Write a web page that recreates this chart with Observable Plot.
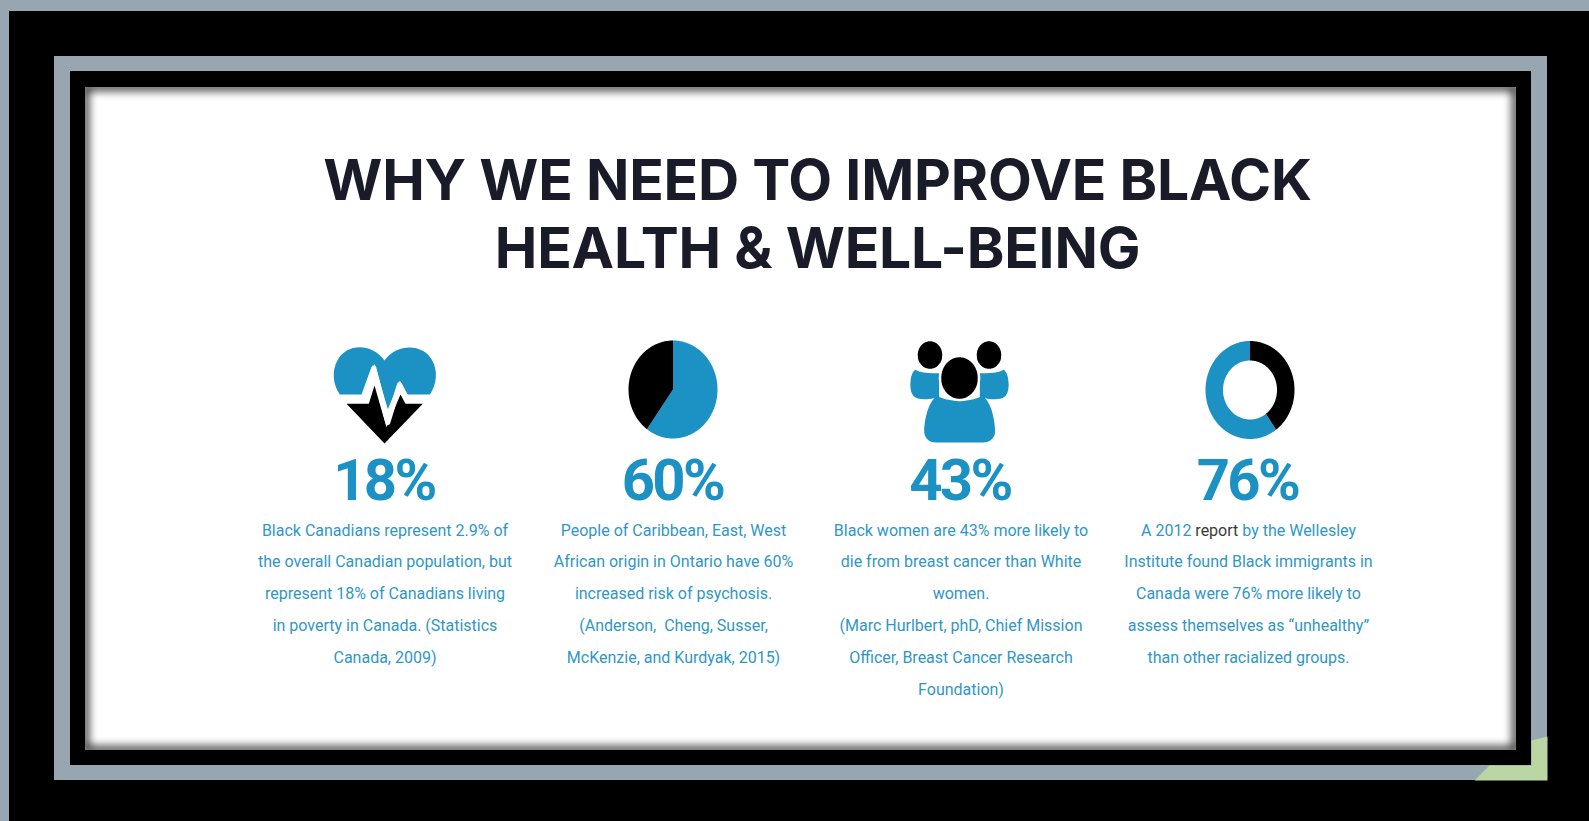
<!DOCTYPE html>
<html lang="en">
<head>
<meta charset="utf-8">
<title>Why we need to improve Black health and well-being</title>
<script src="https://cdn.jsdelivr.net/npm/d3@7"></script>
<script src="https://cdn.jsdelivr.net/npm/@observablehq/plot@0.6"></script>
<style>
  html, body { margin: 0; padding: 0; background: #000; overflow: hidden; }
  svg { display: block; }
  /* Tighter tracking for the title and the headline figures */
  g[font-size="57"] text { letter-spacing: -0.2px; }
  g[font-size="58"] text { letter-spacing: -2.6px; }
</style>
</head>
<body>
<script>
// ---- content ----
const titleLines = ["WHY WE NEED TO IMPROVE BLACK", "HEALTH & WELL-BEING"];
const statLabels = ["18%", "60%", "43%", "76%"];
const statTexts = [
  ["Black Canadians represent 2.9% of", "the overall Canadian population, but", "represent 18% of Canadians living", "in poverty in Canada. (Statistics", "Canada, 2009)"],
  ["People of Caribbean, East, West", "African origin in Ontario have 60%", "increased risk of psychosis.", "(Anderson,\u00a0 Cheng, Susser,", "McKenzie, and Kurdyak, 2015)"],
  ["Black women are 43% more likely to", "die from breast cancer than White", "women.", "(Marc Hurlbert, phD, Chief Mission", "Officer, Breast Cancer Research", "Foundation)"],
  ["Institute found Black immigrants in", "Canada were 76% more likely to", "assess themselves as \u201cunhealthy\u201d", "than other racialized groups."]
];
// First line of the last caption, in three runs: the middle one is darker.
const lastCaptionRuns = ["A 2012", "report", "by the Wellesley"];
// Blue share of each round icon, as the icons are drawn.
const pieBlueShare = 60;
const donutBlueShare = 60;

// ---- layout and styling ----
const W = 1589, H = 821;
const columnX = [384.5, 673, 960.5, 1248];
const BLUE = "#1b92c3", TEXT_BLUE = "#2f97c6", INK = "#191c28", STEEL = "#98a6b1", MINT = "#b9d6a3";
const bodyFont = { size: 16, family: "Roboto", lineStep: 31.8, top: 530 };

// Rectangles of the nested frame: [x1, y1, x2, y2]
const page = [9, 11, W, H];
const ringOuter = [54, 56, 1547, 780];
const ringInner = [70, 71, 1531, 765];
const panel = [85, 87, 1516, 750];
const cornerWedge = [[1474, 780], [1489, 765], [1531, 765], [1531, 740], [1547, 736], [1547, 780]];

const box = ([x1, y1, x2, y2]) => ({ x1, y1, x2, y2 });
const ringBars = ([a, b, c, d], [e, f, g, h]) => [
  { x1: a, y1: b, x2: c, y2: f }, { x1: a, y1: h, x2: c, y2: d },
  { x1: a, y1: f, x2: e, y2: h }, { x1: g, y1: f, x2: c, y2: h }
];
const asPoints = (pts) => pts.map(([x, y]) => ({ x, y }));

// Outline of an elliptical arc between two percentages, clockwise from twelve o'clock.
function arc({ cx, cy }, rx, ry, fromPct, toPct) {
  const n = 160, pts = [];
  for (let i = 0; i <= n; ++i) {
    const a = (fromPct + (toPct - fromPct) * i / n) / 100 * 2 * Math.PI;
    pts.push({ x: cx + rx * Math.sin(a), y: cy - ry * Math.cos(a) });
  }
  return pts;
}
const wedge = (c, from, to) => [...arc(c, c.rx, c.ry, from, to), { x: c.cx, y: c.cy }];
const ringBand = (c, from, to) => [...arc(c, c.rx, c.ry, from, to), ...arc(c, c.irx, c.iry, from, to).reverse()];
const ellipse = (c) => arc(c, c.rx, c.ry, 0, 100);

// Glyph outlines are written on a 3x grid relative to the icon's anchor and
// handed to the dot mark as custom symbols.
function glyph(d) {
  const tokens = d.match(/[MLCZ]|-?[\d.]+/g);
  return {
    draw(ctx) {
      let i = 0;
      const next = () => +tokens[i++] / 3;
      while (i < tokens.length) {
        const op = tokens[i++];
        if (op === "M") ctx.moveTo(next(), next());
        else if (op === "L") ctx.lineTo(next(), next());
        else if (op === "C") ctx.bezierCurveTo(next(), next(), next(), next(), next(), next());
        else ctx.closePath();
      }
    }
  };
}

const heartBlue = glyph("M118 222C98 195 92 150 112 118C135 72 210 62 252 120C295 62 372 75 394 118C414 150 408 195 388 222L318 222L298 180L262 266L222 130L190 222Z");
const heartBlack = glyph("M138 250L205 250L222 195L258 320L300 222L315 250L367 250L252 369Z");
const heartPulse = glyph("M186 236L220 142L262 306L297 192L320 236");
const shoulderLeft = glyph("M104 148C125 160 150 158 176 158L176 230C150 236 128 238 112 234C92 228 88 205 90 185C91 170 95 155 104 148Z");
const shoulderRight = glyph("M370 148C349 160 324 158 298 158L298 230C324 236 346 238 362 234C382 228 386 205 384 185C383 170 379 155 370 148Z");
const bodyMain = glyph("M172 226C195 246 280 246 303 226C330 238 342 290 344 330C345 352 328 366 308 366L166 366C146 366 130 352 131 330C133 290 146 238 172 226Z");

const heartAnchor = { x: 300, y: 320 }, peopleAnchor = { x: 880, y: 320 };
const glyphMark = (anchor, symbol, opts) =>
  Plot.dot([anchor], { x: "x", y: "y", r: 10, symbol, stroke: "none", ...opts });

// One row per caption line.
const cvs = document.createElement("canvas").getContext("2d");
const measure = (s) => { cvs.font = `400 ${bodyFont.size}px ${bodyFont.family}`; return cvs.measureText(s).width; };

const captionRows = [];
statTexts.forEach((lines, c) => lines.forEach((text, i) => {
  const line = c === 3 ? i + 1 : i;
  captionRows.push({ x: columnX[c], y: bodyFont.top + line * bodyFont.lineStep, text });
}));
// Lay the three runs of the last caption's first line end to end, centred on the column.
const gap = measure(" ");
const runWidths = lastCaptionRuns.map(measure);
const runStart = columnX[3] - (d3.sum(runWidths) + gap * 2) / 2;
const runRows = lastCaptionRuns.map((text, i) => ({
  x: runStart + d3.sum(runWidths.slice(0, i)) + gap * i,
  y: bodyFont.top,
  text,
  fill: i === 1 ? "#3a3a3a" : TEXT_BLUE
}));

const pie = { cx: 672.5, cy: 389, rx: 44.5, ry: 49 };
const donut = { cx: 1249.5, cy: 389.5, rx: 44.5, ry: 49, irx: 27, iry: 29.5 };
const filled = (pts, fill, extra = {}) =>
  Plot.line(pts, { x: "x", y: "y", fill, stroke: "none", ...extra });

const chart = Plot.plot({
  width: W,
  height: H,
  margin: 0,
  x: { domain: [0, W], range: [0, W], axis: null },
  y: { domain: [0, H], range: [0, H], axis: null },
  style: { background: STEEL },
  marks: [
    // Frame: black page, panel with soft inner edge, steel ring, mint corner
    Plot.rect([box(page)], { x1: "x1", y1: "y1", x2: "x2", y2: "y2", fill: "#000" }),
    Plot.rect([box(panel)], { x1: "x1", y1: "y1", x2: "x2", y2: "y2", fill: "#fff" }),
    Plot.rect([box(panel)], { x1: "x1", y1: "y1", x2: "x2", y2: "y2", fill: "none", stroke: "#000", strokeWidth: 6, imageFilter: "blur(5px)" }),
    Plot.rect(ringBars(ringOuter, ringInner), { x1: "x1", y1: "y1", x2: "x2", y2: "y2", fill: STEEL }),
    filled(asPoints(cornerWedge), MINT),

    // Title
    Plot.text(titleLines, {
      x: () => 817, y: (d, i) => 181 + i * 68, text: (d) => d,
      fontFamily: "Inter", fontWeight: 700, fontSize: 57, fill: INK, textAnchor: "middle", lineAnchor: "middle"
    }),

    // Heart with pulse
    glyphMark(heartAnchor, heartBlue, { fill: BLUE }),
    glyphMark(heartAnchor, heartBlack, { fill: "#000" }),
    glyphMark(heartAnchor, heartPulse, { fill: "none", stroke: "#fff", strokeWidth: 5, strokeLinejoin: "round", strokeLinecap: "round" }),

    // Pie
    filled(wedge(pie, 0, pieBlueShare), BLUE),
    filled(wedge(pie, pieBlueShare, 100), "#000"),

    // Group of people
    glyphMark(peopleAnchor, shoulderLeft, { fill: BLUE }),
    glyphMark(peopleAnchor, shoulderRight, { fill: BLUE }),
    glyphMark(peopleAnchor, bodyMain, { fill: BLUE }),
    filled(ellipse({ cx: 929.5, cy: 354.5, rx: 13, ry: 14.5 }), "#000", { stroke: "#fff", strokeWidth: 1.5 }),
    filled(ellipse({ cx: 988.5, cy: 354.5, rx: 13, ry: 14.5 }), "#000", { stroke: "#fff", strokeWidth: 1.5 }),
    filled(ellipse({ cx: 959, cy: 377.5, rx: 19.5, ry: 22 }), "#000", { stroke: "#fff", strokeWidth: 2.5 }),

    // Donut
    filled(ringBand(donut, 100 - donutBlueShare, 100), BLUE),
    filled(ringBand(donut, 0, 100 - donutBlueShare), "#000"),

    // Headline figures
    Plot.text(statLabels, {
      x: (d, i) => columnX[i] - 1, y: () => 481, text: (d) => d,
      fontFamily: "Roboto", fontWeight: 700, fontSize: 58, fill: BLUE, textAnchor: "middle", lineAnchor: "middle"
    }),

    // Captions
    Plot.text(captionRows, {
      x: "x", y: "y", text: "text",
      fontFamily: bodyFont.family, fontWeight: 400, fontSize: bodyFont.size, fill: TEXT_BLUE, textAnchor: "middle", lineAnchor: "middle"
    }),
    Plot.text(runRows, {
      x: "x", y: "y", text: "text", fill: "fill",
      fontFamily: bodyFont.family, fontWeight: 400, fontSize: bodyFont.size, textAnchor: "start", lineAnchor: "middle"
    })
  ]
});
document.body.appendChild(chart);
</script>
</body>
</html>
